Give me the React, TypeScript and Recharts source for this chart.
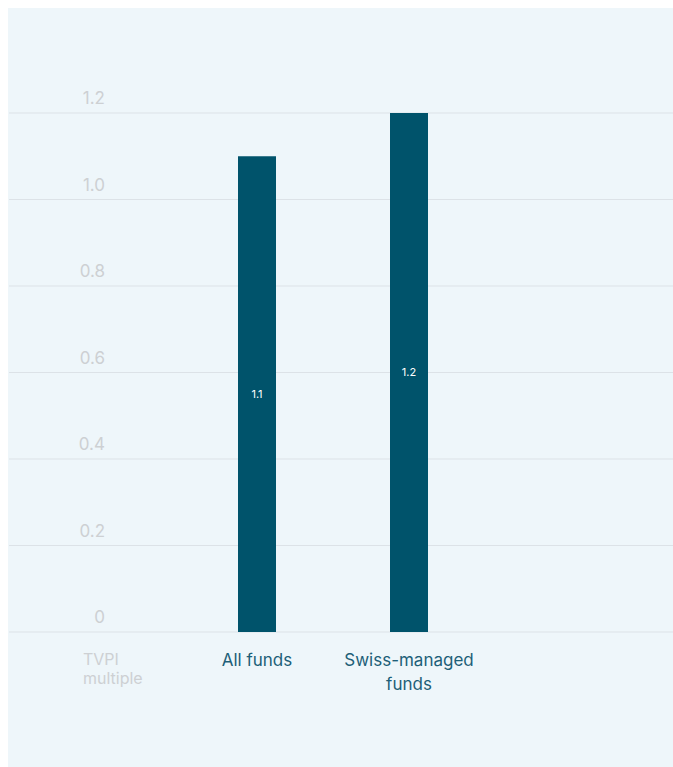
import React from "react";
import { BarChart, Bar, XAxis, YAxis, CartesianGrid, LabelList } from "recharts";

const categories = ["All funds", "Swiss-managed funds"];
const tvpiValues = [1.1, 1.2];
const yTicks = [0, 0.2, 0.4, 0.6, 0.8, 1.0, 1.2];
const axisTitle = ["TVPI", "multiple"];
const categoryLines: Record<string, string[]> = {
  "All funds": ["All funds"],
  "Swiss-managed funds": ["Swiss-managed", "funds"],
};

const data = categories.map((c, i) => ({ name: c, value: tvpiValues[i] }));

const FONT = "Inter, 'Noto Sans', sans-serif";
const W = 665;
const H = 759;

const renderYTick = (props: any) => {
  const { y, payload } = props;
  const v = payload.value as number;
  const label = v === 0 ? "0" : v.toFixed(1);
  return (
    <text key={`yt-${v}`} x={97} y={y - 9} textAnchor="end" fill="#cdd0d3" fontSize={17} fontFamily={FONT}>
      {label}
    </text>
  );
};

const renderXTick = (props: any) => {
  const { x, y, payload } = props;
  const lines = categoryLines[payload.value] || [payload.value];
  return (
    <text key={`xt-${payload.value}`} x={x} y={y + 26} textAnchor="middle" fill="#1d5f78" fontSize={17} fontFamily={FONT}>
      {lines.map((l: string, i: number) => (
        <tspan key={i} x={x} dy={i === 0 ? 0 : 24}>
          {l}
        </tspan>
      ))}
    </text>
  );
};

const AxisTitle = (props: any) => {
  const vb = props.viewBox || { y: 624 };
  return (
    <text x={75} y={vb.y + 33} fill="#cdd0d3" fontSize={16} fontFamily={FONT}>
      {axisTitle.map((l, i) => (
        <tspan key={i} x={75} dy={i === 0 ? 0 : 19}>
          {l}
        </tspan>
      ))}
    </text>
  );
};

export default function App() {
  return (
    <div
      style={{
        position: "fixed",
        left: 8,
        top: 8,
        width: W,
        height: H,
        background: "#eef6fa",
        overflow: "hidden",
      }}
    >
      <BarChart
        width={W}
        height={H}
        data={data}
        margin={{ top: 105, right: 0, bottom: 0, left: 0 }}
      >
        <CartesianGrid vertical={false} stroke="#dce2e7" strokeWidth={1} />
        <YAxis
          width={1}
          domain={[0, 1.2]}
          ticks={yTicks}
          axisLine={false}
          tickLine={false}
          tick={renderYTick}
          interval={0}
        />
        <XAxis
          dataKey="name"
          height={H - 624}
          padding={{ left: 172, right: W - 477 }}
          axisLine={false}
          tickLine={false}
          tick={renderXTick}
          interval={0}
          label={<AxisTitle />}
        />
        <Bar dataKey="value" fill="#00536b" barSize={38} isAnimationActive={false}>
          <LabelList
            dataKey="value"
            position="center"
            fill="#ffffff"
            fontSize={11}
            fontFamily={FONT}
            formatter={(v: any) => String(v)}
          />
        </Bar>
      </BarChart>
    </div>
  );
}
